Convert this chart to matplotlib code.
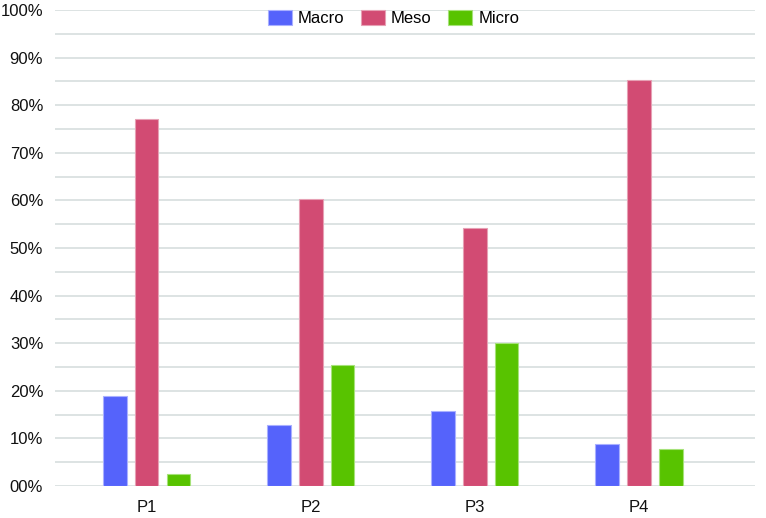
import matplotlib
matplotlib.use("Agg")
import matplotlib.pyplot as plt
import numpy as np
from matplotlib.ticker import MultipleLocator, FuncFormatter

plt.rcParams['font.family'] = ['Liberation Sans', 'DejaVu Sans']

categories = ["P1", "P2", "P3", "P4"]
series_names = ["Macro", "Meso", "Micro"]
macro = [18.9, 12.8, 15.7, 8.8]
meso = [77.0, 60.2, 54.1, 85.2]
micro = [2.6, 25.4, 30.0, 7.7]
colors = ["#5563fb", "#d24b73", "#58c300"]
edge_colors = ["#a9b0ff", "#e6a0b4", "#a6e27a"]

W, H = 766, 518
fig = plt.figure(figsize=(W / 100, H / 100), dpi=100)
left, right, top, bottom = 55, 755, 10, 486
ax = fig.add_axes([left / W, (H - bottom) / H, (right - left) / W, (bottom - top) / H])

x = np.arange(len(categories))
bw = 0.146
off = 0.195
for i, (vals, c, ec) in enumerate(zip([macro, meso, micro], colors, edge_colors)):
    ax.bar(x + (i - 1) * off, vals, width=bw, color=c, edgecolor=ec, linewidth=0.8,
           label=series_names[i], zorder=3)

ax.set_ylim(0, 100)
ax.set_xlim(-0.558, 3.71)
ax.yaxis.set_major_locator(MultipleLocator(10))
ax.yaxis.set_minor_locator(MultipleLocator(5))
ax.yaxis.set_major_formatter(FuncFormatter(lambda v, p: f"{int(round(v)):02d}%"))
ax.grid(axis='y', which='both', color='#dde3e3', linewidth=1.4, zorder=0)
ax.set_xticks(x)
ax.set_xticklabels(categories)
ax.tick_params(axis='both', which='both', length=0, labelsize=12, colors='#111111')
ax.tick_params(axis='y', pad=8.5)
ax.tick_params(axis='x', pad=10)
for s in ax.spines.values():
    s.set_visible(False)

leg = ax.legend(loc='center', bbox_to_anchor=(0.484, 1 - 8 / 476), ncol=3, frameon=False,
                fontsize=12, handlelength=1.44, handleheight=0.96, handletextpad=0.34,
                columnspacing=1.0, borderaxespad=0.0, borderpad=0.0)

fig.savefig("out.png", dpi=100, facecolor='white')
